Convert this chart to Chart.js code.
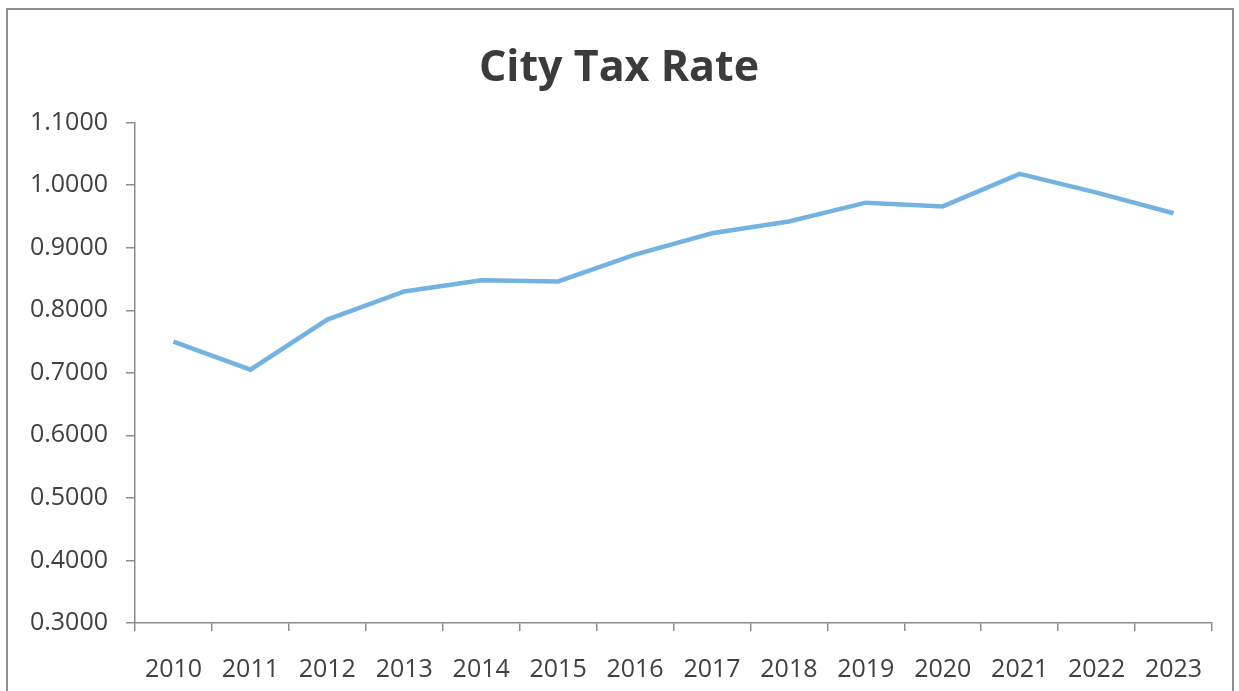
<!DOCTYPE html>
<html lang="en">

<head>
    <meta charset="UTF-8">
    <title>City Tax Rate</title>
    <style>
        body { margin: 0; background: #fff; overflow: hidden; }
        #frame {
            position: absolute; left: 6px; top: 8px;
            width: 1228px; height: 720px;
            border: 2px solid #8f8f8f;
            box-sizing: border-box;
        }
        #wrap { position: absolute; left: 0; top: 0; width: 1239px; height: 691px; }
    </style>
</head>

<body>
    <div id="frame"></div>
    <div id="wrap">
        <canvas id="myChart" width="1239" height="691"></canvas>
    </div>

    <script src="https://cdn.jsdelivr.net/npm/chart.js"></script>
    <script>
        // years on the x axis
        const years = ['2010', '2011', '2012', '2013', '2014', '2015', '2016',
                       '2017', '2018', '2019', '2020', '2021', '2022', '2023'];
        // tax rate per year
        const rates = [0.750, 0.705, 0.785, 0.830, 0.848, 0.846, 0.889,
                       0.923, 0.942, 0.972, 0.966, 1.018, 0.988, 0.955];
        // value axis range
        const yMin = 0.3;
        const yMax = 1.1;
        const yStep = 0.1;

        const axisGray = '#8c8c8c';
        const textGray = '#404040';
        const labelFont = { family: 'Open Sans', size: 25 };

        const ctx = document.getElementById('myChart');

        new Chart(ctx, {
            type: 'line',
            data: {
                labels: years,
                datasets: [{
                    label: 'City Tax Rate',
                    data: rates,
                    borderColor: '#74b2e0',
                    borderWidth: 4.5,
                    pointRadius: 0,
                    tension: 0
                }]
            },
            options: {
                responsive: false,
                animation: false,
                layout: { padding: { left: 26, right: 27, top: 0, bottom: 0 } },
                plugins: {
                    legend: { display: false },
                    tooltip: { enabled: false },
                    title: {
                        display: true,
                        text: 'City Tax Rate',
                        color: '#3b3b3b',
                        font: { family: 'Open Sans', size: 43, weight: 'bold' },
                        padding: { top: 43, bottom: 28 }
                    }
                },
                scales: {
                    x: {
                        offset: true,
                        grid: {
                            offset: true,
                            drawOnChartArea: false,
                            tickLength: 8,
                            color: axisGray,
                            lineWidth: 1.5
                        },
                        border: { color: axisGray, width: 1.5 },
                        ticks: {
                            font: labelFont,
                            color: textGray,
                            padding: 24,
                            maxRotation: 0,
                            autoSkip: false
                        },
                        afterFit: (s) => { s.height = 68; }
                    },
                    y: {
                        min: yMin,
                        max: yMax,
                        grid: {
                            drawOnChartArea: false,
                            tickLength: 9,
                            color: axisGray,
                            lineWidth: 1.5
                        },
                        border: { color: axisGray, width: 1.5 },
                        ticks: {
                            stepSize: yStep,
                            font: labelFont,
                            color: textGray,
                            padding: 18,
                            callback: (v) => Number(v).toFixed(4)
                        },
                        afterFit: (s) => { s.width = 109; }
                    }
                }
            }
        });
    </script>

</body>

</html>
